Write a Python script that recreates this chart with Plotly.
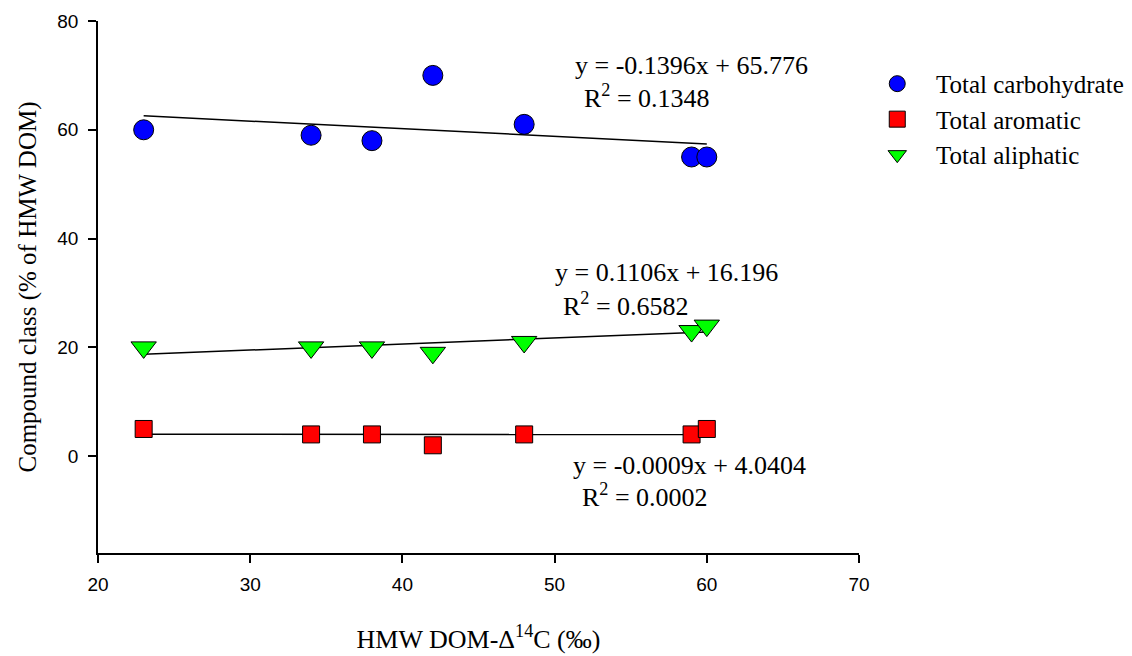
import plotly.graph_objects as go

# HMW DOM radiocarbon (x) vs compound class share (y)
delta14c = [23, 34, 38, 42, 48, 59, 60]
carbohydrate = [60, 59, 58, 70, 61, 55, 55]
aromatic = [5, 4, 4, 2, 4, 4, 5]
aliphatic = [20, 20, 20, 19, 21, 23, 24]

# Linear fits (slope, intercept, R^2) as reported
fit_carb = (-0.1396, 65.776, 0.1348)
fit_arom = (-0.0009, 4.0404, 0.0002)
fit_aliph = (0.1106, 16.196, 0.6582)

x_ticks = [20, 30, 40, 50, 60, 70]
y_ticks = [0, 20, 40, 60, 80]

SERIF = "Liberation Serif, Times New Roman, serif"
SANS = "Liberation Sans, Arial, sans-serif"
NB = "\u00a0" * 3

fig = go.Figure()

xs = [min(delta14c), max(delta14c)]
for slope, icpt, _ in (fit_carb, fit_aliph, fit_arom):
    fig.add_trace(go.Scatter(
        x=xs, y=[slope * v + icpt for v in xs], mode="lines",
        line=dict(color="black", width=1.5), showlegend=False, hoverinfo="skip"))

fig.add_trace(go.Scatter(
    x=delta14c, y=carbohydrate, mode="markers", name=NB + "Total carbohydrate",
    marker=dict(symbol="circle", size=20, color="#0000FF",
                line=dict(color="black", width=1))))
fig.add_trace(go.Scatter(
    x=delta14c, y=aromatic, mode="markers", name=NB + "Total aromatic",
    marker=dict(symbol="square", size=17, color="#FF0000",
                line=dict(color="black", width=1))))
fig.add_trace(go.Scatter(
    x=delta14c, y=aliphatic, mode="markers", name=NB + "Total aliphatic",
    marker=dict(symbol="triangle-down", size=22, color="#00FF00",
                line=dict(color="black", width=1))))


def eq_text(slope, icpt):
    sign = "-" if slope < 0 else ""
    return f"y = {sign}{abs(slope):.4f}x + {icpt:g}"


def r2_text(r2):
    return f"R<sup>2</sup> = {r2:.4f}"


labels = [
    (fit_carb, 51.2, 71.8, 51.8, 66.1),
    (fit_aliph, 49.9, 33.8, 50.4, 27.9),
    (fit_arom, 51.1, -1.65, 51.7, -7.3),
]
for (slope, icpt, r2), ex, ey, rx, ry in labels:
    fig.add_annotation(x=ex, y=ey, text=eq_text(slope, icpt), showarrow=False,
                       xanchor="left", yanchor="middle",
                       font=dict(family=SERIF, size=26, color="black"))
    fig.add_annotation(x=rx, y=ry, text=r2_text(r2), showarrow=False,
                       xanchor="left", yanchor="middle",
                       font=dict(family=SERIF, size=26, color="black"))

axis_common = dict(
    showline=True, linecolor="black", linewidth=1.5, mirror=False,
    ticks="outside", ticklen=8, tickwidth=1.5, tickcolor="black",
    showgrid=False, zeroline=False,
    tickfont=dict(family=SANS, size=19, color="black"),
)

fig.update_layout(
    width=1132, height=656,
    margin=dict(l=98, r=273, t=21, b=103, autoexpand=False),
    paper_bgcolor="white", plot_bgcolor="white",
    xaxis=dict(range=[20, 70], tickvals=x_ticks, ticklabelstandoff=5, **axis_common,
               title=dict(text="HMW DOM-Δ<sup>14</sup>C (‰)", standoff=36,
                          font=dict(family=SERIF, size=26, color="black"))),
    yaxis=dict(range=[-17.8, 80], tickvals=y_ticks, ticklabelstandoff=6, **axis_common,
               title=dict(text="Compound class (% of HMW DOM)", standoff=14,
                          font=dict(family=SERIF, size=25, color="black"))),
    legend=dict(x=1.024, y=0.925, xanchor="left", yanchor="top",
                font=dict(family=SERIF, size=25, color="black"),
                bgcolor="rgba(0,0,0,0)", itemsizing="trace", tracegroupgap=0),
)

fig.write_html("out.html")
